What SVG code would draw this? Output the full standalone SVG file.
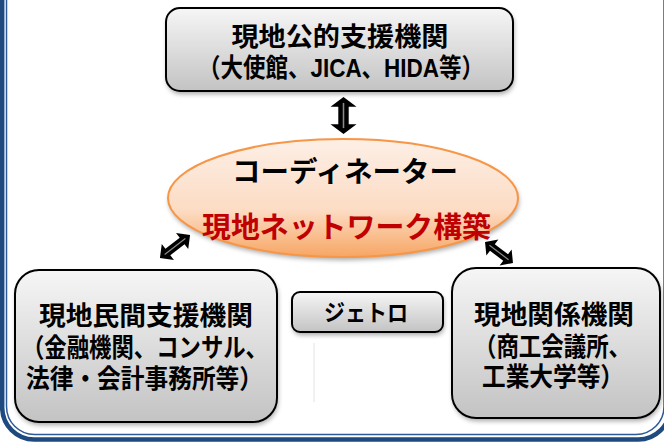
<svg xmlns="http://www.w3.org/2000/svg" width="664" height="442" viewBox="0 0 664 442">
<style>
.box{stroke:#000;stroke-width:2;fill:url(#gBox)}
.shd{fill:#000;opacity:0.35;filter:url(#blur)}
.t{font-family:"Liberation Sans","Noto Sans CJK JP",sans-serif;font-weight:bold;text-anchor:middle;fill:#000}
.arr{fill:#000}
.arrl{stroke:#8a8a8a;stroke-width:1.2;fill:none}
</style>
<defs>
<linearGradient id="gBox" x1="0" y1="0" x2="0" y2="1">
<stop offset="0" stop-color="#f6f6f6"/>
<stop offset="1" stop-color="#c3c3c3"/>
</linearGradient>
<linearGradient id="gEll" x1="0" y1="0" x2="0" y2="1">
<stop offset="0" stop-color="#fdefe6"/>
<stop offset="0.6" stop-color="#fcdcc4"/>
<stop offset="1" stop-color="#f7a664"/>
</linearGradient>
<filter id="blur" filterUnits="userSpaceOnUse" x="0" y="0" width="664" height="442">
<feGaussianBlur stdDeviation="2.5"/>
</filter>
<g id="dbl">
<path class="arr" d="M-19,0 L-9,-10 L-9,-4 L9,-4 L9,-10 L19,0 L9,10 L9,4 L-9,4 L-9,10 Z"/>
<line class="arrl" x1="-13" y1="0" x2="13" y2="0"/>
</g>
</defs>
<rect width="664" height="442" fill="#fff"/>
<g id="frame" fill="none">
<rect x="2.2" y="-40" width="668" height="479.5" rx="32" stroke="#1f4a80" stroke-width="4.5"/>
<rect x="6.5" y="-40" width="657.5" height="474.5" rx="28" stroke="#2b5a96" stroke-width="1.5"/>
</g>
<line x1="314" y1="343" x2="314" y2="402" stroke="#e2e2e2" stroke-width="1"/>
<g id="connectors">
<use href="#dbl" transform="translate(343.5,115.5) rotate(90) scale(0.97,1.3)"/>
<use href="#dbl" transform="translate(175,246.5) rotate(-37.5)"/>
<use href="#dbl" transform="translate(499,252.5) rotate(36.9) scale(0.92,1)"/>
</g>
<g id="node-public">
<rect class="shd" x="167" y="11" width="347" height="83" rx="14"/>
<rect class="box" x="166" y="8" width="347" height="83" rx="14"/>
<text class="t" x="340" y="46" font-size="26" textLength="217" lengthAdjust="spacingAndGlyphs">現地公的支援機関</text>
<text class="t" x="341" y="77" font-size="26" textLength="286" lengthAdjust="spacingAndGlyphs">（大使館、JICA、HIDA等）</text>
</g>
<g id="node-coordinator">
<ellipse class="shd" cx="344" cy="201" rx="175" ry="59"/>
<ellipse cx="343" cy="198" rx="175" ry="59" fill="url(#gEll)" stroke="#f79646" stroke-width="2"/>
<text class="t" x="345" y="182" font-size="28" textLength="226" lengthAdjust="spacingAndGlyphs">コーディネーター</text>
<text class="t" x="346.5" y="238" font-size="29" style="fill:#c00000" textLength="289" lengthAdjust="spacingAndGlyphs">現地ネットワーク構築</text>
</g>
<g id="node-private">
<rect class="shd" x="16" y="273" width="262" height="152" rx="24"/>
<rect class="box" x="15" y="270" width="262" height="152" rx="24"/>
<text class="t" x="146" y="325" font-size="26" textLength="214" lengthAdjust="spacingAndGlyphs">現地民間支援機関</text>
<text class="t" x="145" y="357" font-size="26" textLength="246" lengthAdjust="spacingAndGlyphs">（金融機関、コンサル、</text>
<text class="t" x="144.5" y="388" font-size="26" textLength="237" lengthAdjust="spacingAndGlyphs">法律・会計事務所等）</text>
</g>
<g id="node-jetro">
<rect class="shd" x="293" y="295" width="151" height="40" rx="8"/>
<rect class="box" x="292" y="292" width="151" height="40" rx="8"/>
<text class="t" x="366" y="321" font-size="23" textLength="84" lengthAdjust="spacingAndGlyphs">ジェトロ</text>
</g>
<g id="node-related">
<rect class="shd" x="453" y="271" width="208" height="150" rx="24"/>
<rect class="box" x="452" y="268" width="208" height="150" rx="24"/>
<text class="t" x="554" y="324" font-size="26" textLength="160" lengthAdjust="spacingAndGlyphs">現地関係機関</text>
<text class="t" x="552.5" y="356" font-size="26" textLength="157" lengthAdjust="spacingAndGlyphs">（商工会議所、</text>
<text class="t" x="553" y="386" font-size="26" textLength="142" lengthAdjust="spacingAndGlyphs">工業大学等）</text>
</g>
</svg>
